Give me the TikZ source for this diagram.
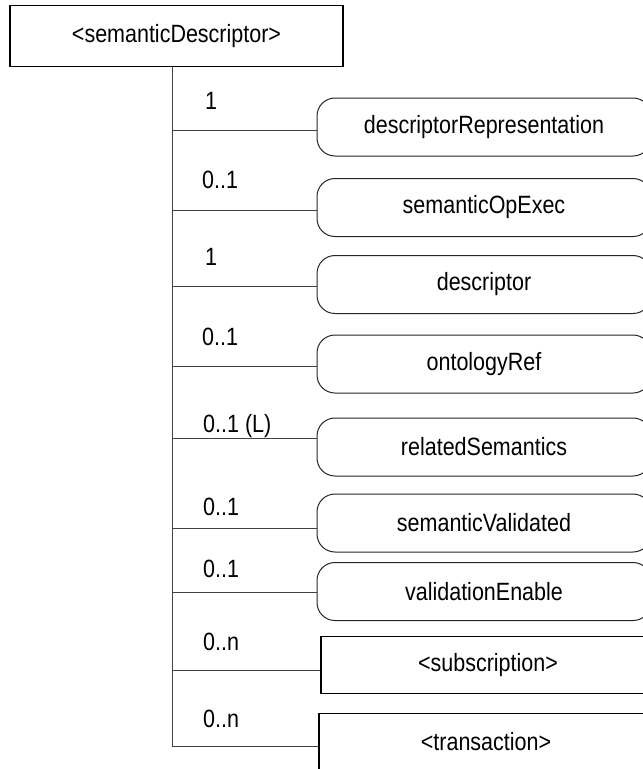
\documentclass[tikz,border=0pt]{standalone}
\usepackage{fontspec}
\setmainfont[FakeStretch=0.86]{Liberation Sans}
\begin{document}
\begin{tikzpicture}[x=1pt,y=-1pt,
  txt/.style={font=\fontsize{25}{29}\selectfont, text=black},
  rootbox/.style={draw=black, line width=1.3pt, rectangle, inner sep=0pt,
    minimum width=333pt, minimum height=61pt, txt},
  attrbox/.style={draw=black!85, line width=1pt, rounded corners=18pt, inner sep=0pt,
    minimum width=334pt, minimum height=58pt, txt},
  resbox/.style={draw=black, line width=1.8pt, rectangle, inner sep=0pt,
    minimum width=334pt, minimum height=57pt, txt},
  link/.style={draw=black!75, line width=1pt},
  mult/.style={txt, anchor=base west, inner sep=0pt}]
\useasboundingbox (0,0) rectangle (643,769);
\clip (0,0) rectangle (643,769);
\fill[white] (0,0) rectangle (643,769);

% parent resource
\node[rootbox] (root) at (176.5,36) {<semanticDescriptor>};

% attributes and child resources
\node[attrbox] (b1) at (484,127)   {descriptorRepresentation};
\node[attrbox] (b2) at (484,207.5) {semanticOpExec};
\node[attrbox] (b3) at (484,284.5) {descriptor};
\node[attrbox] (b4) at (484,364)   {ontologyRef};
\node[attrbox] (b5) at (484,447)   {relatedSemantics};
\node[attrbox] (b6) at (484,523)   {semanticValidated};
\node[attrbox] (b7) at (484,591.5) {validationEnable};
\node[resbox]  (b8) at (488,665)   {<subscription>};
\node[resbox]  (b9) at (486,742)   {<transaction>};

% junctions on the trunk
\coordinate (j1) at (172,130);
\coordinate (j2) at (172,210);
\coordinate (j3) at (172,286);
\coordinate (j4) at (172,366);
\coordinate (j5) at (172,438);
\coordinate (j6) at (172,528);
\coordinate (j7) at (172,592);
\coordinate (j8) at (172,670);
\coordinate (j9) at (172,746);

% trunk and branches
\draw[link] (root.south -| j9) -- (j9);
\foreach \i in {1,...,9} {
  \draw[link] (j\i) -- (j\i -| b\i.west);
}

% multiplicities
\node[mult] (m1) at (205,109) {1};
\node[mult] (m2) at (202,188) {0..1};
\node[mult] (m3) at (205,265) {1};
\node[mult] (m4) at (202,345) {0..1};
\node[mult] (m5) at (203,432) {0..1 (L)};
\node[mult] (m6) at (203,515) {0..1};
\node[mult] (m7) at (203,577) {0..1};
\node[mult] (m8) at (203,650) {0..n};
\node[mult] (m9) at (203,727) {0..n};
\end{tikzpicture}
\end{document}
